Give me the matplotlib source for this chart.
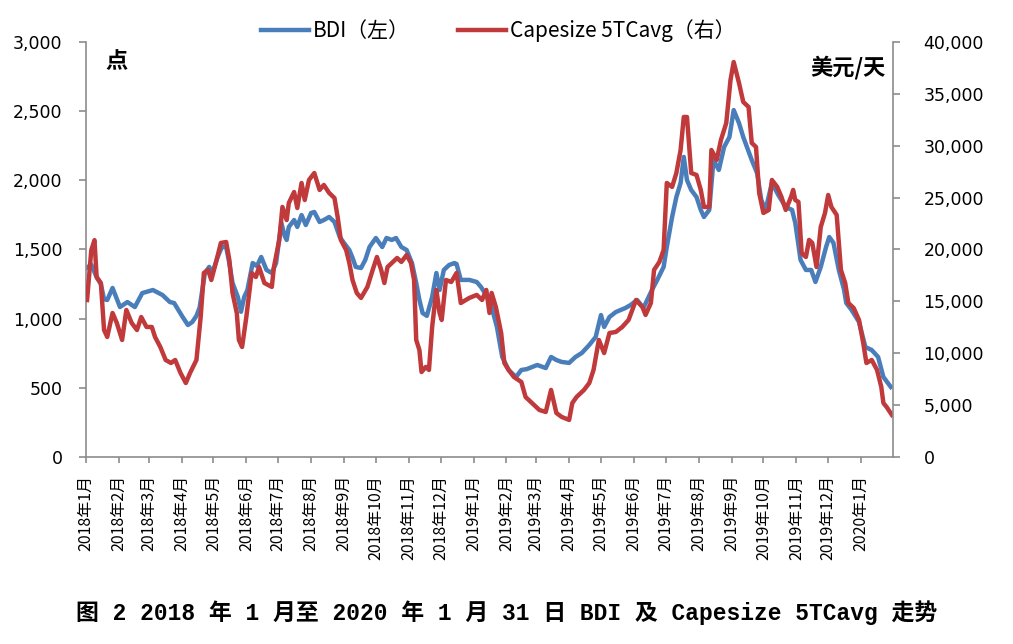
import matplotlib
matplotlib.use("Agg")
import matplotlib.pyplot as plt
import matplotlib.dates as mdates
from matplotlib.ticker import FuncFormatter, MultipleLocator
import pandas as pd

# BDI (left axis, points)
bdi_dates = [
    "2018-01-02", "2018-01-06", "2018-01-11", "2018-01-15", "2018-01-18", "2018-01-21",
    "2018-01-26", "2018-02-02", "2018-02-09", "2018-02-16", "2018-02-23", "2018-03-05",
    "2018-03-14", "2018-03-21", "2018-03-25", "2018-04-02", "2018-04-07", "2018-04-11",
    "2018-04-15", "2018-04-18", "2018-04-23", "2018-04-27", "2018-04-30", "2018-05-05",
    "2018-05-09", "2018-05-13", "2018-05-16", "2018-05-19", "2018-05-24", "2018-05-27",
    "2018-05-30", "2018-06-02", "2018-06-07", "2018-06-11", "2018-06-15", "2018-06-20",
    "2018-06-25", "2018-06-29", "2018-07-04", "2018-07-07", "2018-07-09", "2018-07-11",
    "2018-07-16", "2018-07-19", "2018-07-23", "2018-07-27", "2018-08-01", "2018-08-04",
    "2018-08-09", "2018-08-13", "2018-08-18", "2018-08-23", "2018-08-28", "2018-09-01",
    "2018-09-06", "2018-09-09", "2018-09-12", "2018-09-17", "2018-09-21", "2018-09-25",
    "2018-10-01", "2018-10-07", "2018-10-11", "2018-10-16", "2018-10-20", "2018-10-25",
    "2018-10-30", "2018-11-04", "2018-11-08", "2018-11-11", "2018-11-14", "2018-11-18",
    "2018-11-23", "2018-11-27", "2018-11-30", "2018-12-04", "2018-12-09", "2018-12-14",
    "2018-12-16", "2018-12-20", "2018-12-28", "2019-01-04", "2019-01-08", "2019-01-14",
    "2019-01-18", "2019-01-23", "2019-01-28", "2019-02-03", "2019-02-10", "2019-02-15",
    "2019-02-20", "2019-03-02", "2019-03-10", "2019-03-15", "2019-03-20", "2019-03-25",
    "2019-04-01", "2019-04-07", "2019-04-13", "2019-04-20", "2019-04-26", "2019-05-01",
    "2019-05-04", "2019-05-09", "2019-05-15", "2019-05-24", "2019-05-29", "2019-06-04",
    "2019-06-10", "2019-06-18", "2019-06-23", "2019-06-29", "2019-07-02", "2019-07-07",
    "2019-07-11", "2019-07-15", "2019-07-18", "2019-07-21", "2019-07-25", "2019-07-30",
    "2019-08-03", "2019-08-06", "2019-08-11", "2019-08-15", "2019-08-20", "2019-08-25",
    "2019-08-30", "2019-09-03", "2019-09-08", "2019-09-12", "2019-09-20", "2019-09-25",
    "2019-09-29", "2019-10-03", "2019-10-09", "2019-10-15", "2019-10-22", "2019-10-28",
    "2019-10-31", "2019-11-05", "2019-11-10", "2019-11-15", "2019-11-19", "2019-11-24",
    "2019-11-29", "2019-12-02", "2019-12-06", "2019-12-11", "2019-12-16", "2019-12-18",
    "2019-12-23", "2019-12-30", "2020-01-05", "2020-01-11", "2020-01-17", "2020-01-22",
    "2020-01-29",
]
bdi_values = [
    1370, 1390, 1300, 1250, 1140, 1135,
    1222, 1084, 1120, 1084, 1185, 1207,
    1171, 1120, 1113, 1012, 954, 975,
    1020, 1080, 1330, 1374, 1330, 1446,
    1518, 1518, 1400, 1258, 1157, 1050,
    1157, 1207, 1402, 1380, 1446, 1352,
    1330, 1402, 1692, 1600, 1569, 1663,
    1713, 1663, 1749, 1677, 1764, 1771,
    1699, 1713, 1735, 1699, 1590, 1547,
    1496, 1440, 1374, 1366, 1424, 1518,
    1583, 1518, 1583, 1569, 1583, 1518,
    1496, 1402, 1258, 1135, 1041, 1020,
    1157, 1330, 1207, 1352, 1388, 1402,
    1395, 1280, 1280, 1265, 1229, 1157,
    1084, 940, 723, 629, 578, 629,
    635, 665, 643, 723, 701, 687,
    680, 723, 752, 810, 867, 1026,
    940, 1012, 1048, 1077, 1099, 1135,
    1077, 1207, 1280, 1374, 1518, 1735,
    1879, 1981, 2169, 2002, 1930, 1879,
    1786, 1735, 1786, 2147, 2075, 2241,
    2313, 2508, 2414, 2313, 2147, 2053,
    1858, 1786, 1981, 1894, 1807, 1786,
    1692, 1424, 1352, 1352, 1265, 1374,
    1518, 1590, 1547, 1352, 1207, 1113,
    1063, 976, 795, 773, 723, 578,
    506,
]

# Capesize 5TC average (right axis, USD/day)
cape_dates = [
    "2018-01-02", "2018-01-06", "2018-01-09", "2018-01-11", "2018-01-15", "2018-01-18",
    "2018-01-21", "2018-01-26", "2018-01-30", "2018-02-04", "2018-02-08", "2018-02-13",
    "2018-02-18", "2018-02-22", "2018-02-27", "2018-03-04", "2018-03-07", "2018-03-12",
    "2018-03-17", "2018-03-22", "2018-03-26", "2018-03-31", "2018-04-05", "2018-04-09",
    "2018-04-15", "2018-04-19", "2018-04-22", "2018-04-26", "2018-04-29", "2018-05-04",
    "2018-05-08", "2018-05-13", "2018-05-16", "2018-05-19", "2018-05-23", "2018-05-25",
    "2018-05-28", "2018-06-01", "2018-06-06", "2018-06-10", "2018-06-13", "2018-06-18",
    "2018-06-25", "2018-06-27", "2018-07-02", "2018-07-05", "2018-07-09", "2018-07-11",
    "2018-07-16", "2018-07-19", "2018-07-23", "2018-07-26", "2018-07-30", "2018-08-04",
    "2018-08-09", "2018-08-13", "2018-08-18", "2018-08-23", "2018-08-26", "2018-08-29",
    "2018-09-03", "2018-09-06", "2018-09-09", "2018-09-13", "2018-09-17", "2018-09-23",
    "2018-09-28", "2018-10-02", "2018-10-06", "2018-10-09", "2018-10-12", "2018-10-16",
    "2018-10-21", "2018-10-25", "2018-10-30", "2018-11-03", "2018-11-06", "2018-11-08",
    "2018-11-11", "2018-11-13", "2018-11-17", "2018-11-20", "2018-11-23", "2018-11-27",
    "2018-11-30", "2018-12-02", "2018-12-06", "2018-12-11", "2018-12-16", "2018-12-20",
    "2018-12-28", "2019-01-04", "2019-01-09", "2019-01-13", "2019-01-16", "2019-01-18",
    "2019-01-22", "2019-01-27", "2019-01-30", "2019-02-03", "2019-02-08", "2019-02-15",
    "2019-02-19", "2019-02-25", "2019-03-04", "2019-03-10", "2019-03-15", "2019-03-20",
    "2019-03-25", "2019-04-01", "2019-04-04", "2019-04-08", "2019-04-15", "2019-04-20",
    "2019-04-24", "2019-04-29", "2019-05-04", "2019-05-09", "2019-05-15", "2019-05-21",
    "2019-05-27", "2019-06-03", "2019-06-09", "2019-06-12", "2019-06-17", "2019-06-20",
    "2019-06-25", "2019-06-29", "2019-07-02", "2019-07-07", "2019-07-11", "2019-07-15",
    "2019-07-18", "2019-07-21", "2019-07-25", "2019-07-30", "2019-08-03", "2019-08-06",
    "2019-08-11", "2019-08-13", "2019-08-18", "2019-08-22", "2019-08-27", "2019-08-31",
    "2019-09-03", "2019-09-08", "2019-09-12", "2019-09-17", "2019-09-20", "2019-09-24",
    "2019-09-27", "2019-10-01", "2019-10-06", "2019-10-09", "2019-10-14", "2019-10-18",
    "2019-10-22", "2019-10-27", "2019-10-29", "2019-10-31", "2019-11-03", "2019-11-06",
    "2019-11-10", "2019-11-13", "2019-11-16", "2019-11-20", "2019-11-24", "2019-11-28",
    "2019-12-01", "2019-12-04", "2019-12-09", "2019-12-13", "2019-12-17", "2019-12-20",
    "2019-12-25", "2019-12-30", "2020-01-03", "2020-01-06", "2020-01-11", "2020-01-16",
    "2020-01-20", "2020-01-22", "2020-01-25", "2020-01-30",
]
cape_values = [
    15130, 19950, 20900, 17350, 16770, 12240,
    11570, 13880, 12920, 11280, 14170, 12920,
    12240, 13490, 12530, 12530, 11570, 10600,
    9350, 9060, 9350, 8100, 7130, 8100,
    9350, 13490, 17740, 18030, 17060, 18990,
    20630, 20720, 18990, 15810, 13880, 11280,
    10600, 13490, 17740, 17350, 18310, 16770,
    16390, 18310, 20920, 24100, 22840, 24480,
    25540, 24000, 26410, 24770, 26700, 27370,
    25740, 26220, 25450, 24960, 23130, 20920,
    19950, 18700, 17060, 15810, 15330, 16390,
    18030, 19280, 18030, 16770, 18310, 18700,
    19180, 18800, 19470, 18700, 17060, 11280,
    10310, 8190, 8680, 8390, 12530, 16100,
    13880, 13210, 17060, 16870, 17740, 14840,
    15330, 15620, 15130, 16100, 13880, 15810,
    14460, 11950, 9060, 8390, 7710, 7230,
    5780, 5200, 4530, 4340, 6460, 4240,
    3860, 3570, 5200, 5780, 6460, 7130,
    8390, 11280, 10020, 11950, 12050, 12530,
    13210, 15130, 14460, 13690, 14840, 18030,
    18800, 19950, 26410, 26030, 27370, 29590,
    32770, 32770, 27370, 27180, 25740, 24100,
    24100, 29590, 28630, 30560, 32190, 36340,
    38070, 36050, 34220, 33740, 30270, 29880,
    25450, 23520, 23810, 26700, 26030, 25060,
    23810, 25060, 25740, 24770, 24580, 19660,
    19280, 20920, 20630, 18310, 22170, 23520,
    25250, 24100, 23330, 18030, 16770, 14840,
    14360, 13210, 10990, 9060, 9350, 8390,
    6750, 5200, 4820, 4050,
]

blue = "#4a7ebb"
red = "#c0393b"
axis_grey = "#8c8c8c"

fig = plt.figure(figsize=(10.13, 6.44), dpi=100)
ax = fig.add_axes([0.0849, 0.2904, 0.7966, 0.6444])
ax2 = ax.twinx()

l1, = ax.plot(pd.to_datetime(bdi_dates), bdi_values, color=blue, lw=3.2,
              solid_joinstyle="round", label="BDI（左）")
l2, = ax2.plot(pd.to_datetime(cape_dates), cape_values, color=red, lw=3.2,
               solid_joinstyle="round", label="Capesize 5TCavg（右）")

ax.set_ylim(0, 3000)
ax2.set_ylim(0, 40000)
ax.yaxis.set_major_locator(MultipleLocator(500))
ax2.yaxis.set_major_locator(MultipleLocator(5000))
comma = FuncFormatter(lambda v, p: f"{int(v):,}")
ax.yaxis.set_major_formatter(comma)
ax2.yaxis.set_major_formatter(comma)

ax.set_xlim(pd.Timestamp("2018-01-01"), pd.Timestamp("2020-01-31"))
ax.xaxis.set_major_locator(mdates.MonthLocator())
ax.xaxis.set_major_formatter(FuncFormatter(
    lambda v, p: f"{mdates.num2date(v).year}年{mdates.num2date(v).month}月"))

for a in (ax, ax2):
    for s in a.spines.values():
        s.set_color(axis_grey)
        s.set_linewidth(1.2)
    a.spines["top"].set_visible(False)
ax.spines["right"].set_visible(False)
ax2.spines["left"].set_visible(False)
ax2.spines["bottom"].set_visible(False)

ax.tick_params(axis="y", direction="out", length=5, width=1.2, color=axis_grey,
               labelsize=12.5, pad=12)
ax2.tick_params(axis="y", direction="out", length=5, width=1.2, color=axis_grey,
                labelsize=12.5, pad=17)
ax.tick_params(axis="x", direction="out", length=4, width=1.2, color=axis_grey, pad=9)
for lab in ax.get_xticklabels():
    lab.set_rotation(90)
    lab.set_family(["Noto Sans CJK SC", "DejaVu Sans"])
    lab.set_fontsize(11.5)
    lab.set_ha("center")
    lab.set_va("top")

fig.text(0.104, 0.905, "点", fontsize=16, fontweight="bold",
         family=["Noto Sans CJK SC"], ha="left", va="center")
fig.text(0.874, 0.895, "美元/天", fontsize=16, fontweight="bold",
         family=["Noto Sans CJK SC", "DejaVu Sans"], ha="right", va="center")

fig.legend(handles=[l1, l2], loc="center", bbox_to_anchor=(0.492, 0.952), ncol=2,
           frameon=False, handlelength=2.3, handletextpad=0.2, columnspacing=2.3,
           prop={"family": ["Noto Sans CJK SC", "DejaVu Sans"], "size": 15})

fig.text(0.500, 0.048,
         "图 2 2018 年 1 月至 2020 年 1 月 31 日 BDI 及 Capesize 5TCavg 走势",
         fontsize=16.5, fontweight="bold", family=["Liberation Mono", "Noto Sans CJK SC"],
         ha="center", va="center")

fig.savefig("out.png", dpi=100, facecolor="white")
